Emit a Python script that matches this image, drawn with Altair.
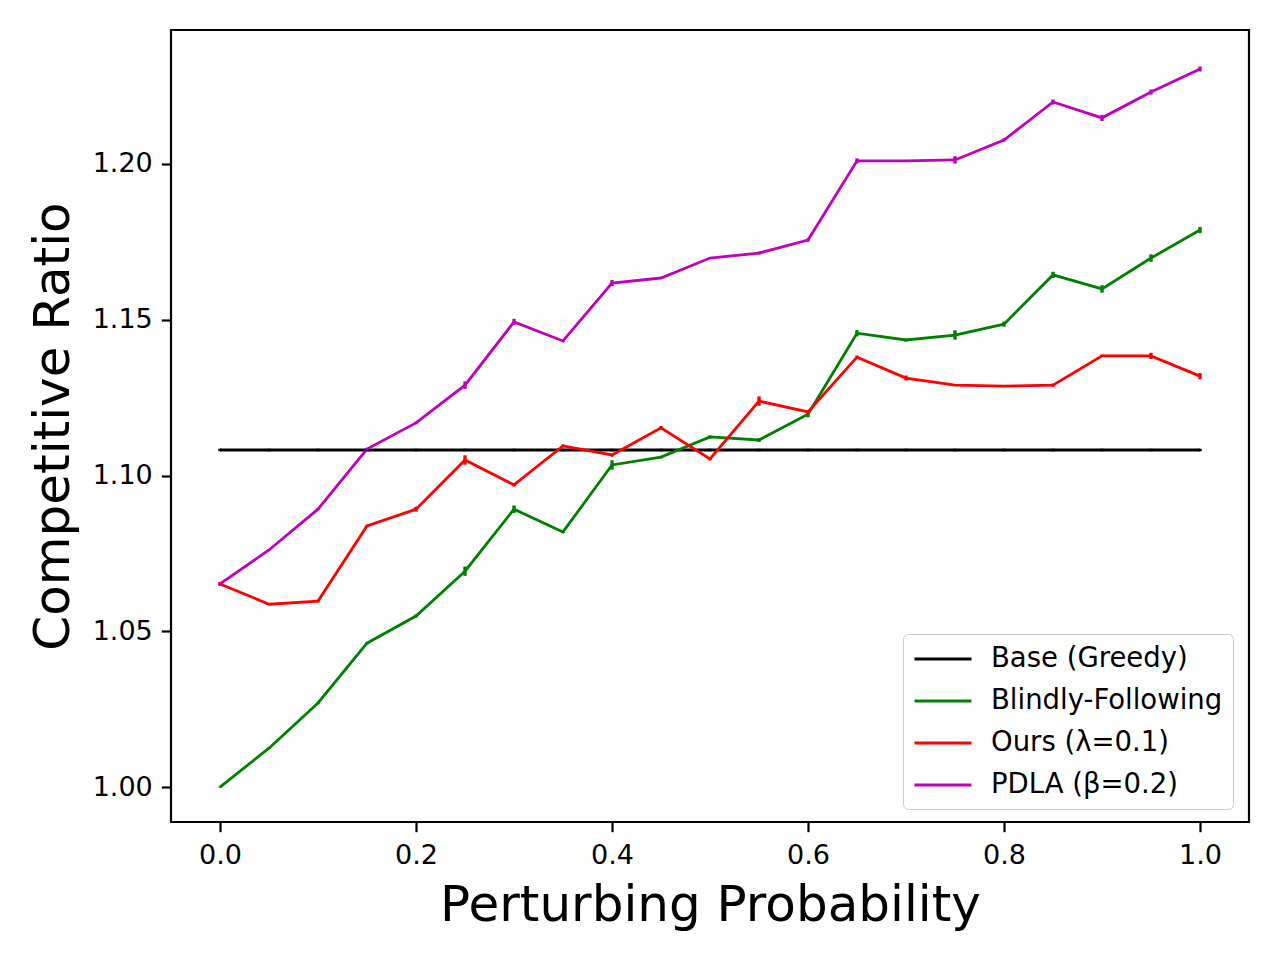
import altair as alt
import pandas as pd

probs = [0.0, 0.05, 0.10, 0.15, 0.20, 0.25, 0.30, 0.35, 0.40, 0.45, 0.50,
         0.55, 0.60, 0.65, 0.70, 0.75, 0.80, 0.85, 0.90, 0.95, 1.00]

base = [1.1082, 1.1082, 1.1082, 1.1082, 1.1082, 1.1082, 1.1082, 1.1082, 1.1082, 1.1082, 1.1082,
        1.1082, 1.1082, 1.1082, 1.1082, 1.1082, 1.1082, 1.1082, 1.1082, 1.1082, 1.1082]
base_err = [0.0004, 0.0004, 0.0004, 0.0004, 0.0004, 0.0004, 0.0004, 0.0004, 0.0004, 0.0004, 0.0004,
            0.0004, 0.0004, 0.0004, 0.0004, 0.0004, 0.0004, 0.0004, 0.0004, 0.0004, 0.0004]

blind = [1.0000, 1.0125, 1.0270, 1.0462, 1.0549, 1.0693, 1.0892, 1.0819, 1.1034, 1.1059, 1.1124,
         1.1114, 1.1197, 1.1457, 1.1435, 1.1451, 1.1486, 1.1644, 1.1599, 1.1698, 1.1788]
blind_err = [0.0002, 0.0003, 0.0003, 0.0004, 0.0005, 0.0015, 0.0012, 0.0004, 0.0015, 0.0004, 0.0005,
             0.0006, 0.0010, 0.0010, 0.0005, 0.0015, 0.0008, 0.0010, 0.0012, 0.0012, 0.0010]

ours = [1.0652, 1.0587, 1.0597, 1.0838, 1.0892, 1.1050, 1.0970, 1.1095, 1.1066, 1.1153, 1.1053,
        1.1239, 1.1204, 1.1380, 1.1313, 1.1290, 1.1287, 1.1290, 1.1384, 1.1384, 1.1319]
ours_err = [0.0006, 0.0003, 0.0004, 0.0004, 0.0008, 0.0015, 0.0005, 0.0005, 0.0005, 0.0006, 0.0004,
            0.0015, 0.0006, 0.0005, 0.0008, 0.0003, 0.0003, 0.0005, 0.0004, 0.0010, 0.0010]

pdla = [1.0652, 1.0761, 1.0892, 1.1085, 1.1169, 1.1290, 1.1493, 1.1432, 1.1618, 1.1634, 1.1698,
        1.1714, 1.1756, 1.2010, 1.2010, 1.2013, 1.2077, 1.2199, 1.2148, 1.2231, 1.2305]
pdla_err = [0.0004, 0.0003, 0.0003, 0.0004, 0.0004, 0.0012, 0.0010, 0.0004, 0.0010, 0.0003, 0.0003,
            0.0005, 0.0005, 0.0008, 0.0003, 0.0012, 0.0005, 0.0008, 0.0010, 0.0008, 0.0008]

series_names = ["Base (Greedy)", "Blindly-Following", "Ours (λ=0.1)", "PDLA (β=0.2)"]
series_colors = ["#000000", "#008000", "#ff0000", "#bf00bf"]

rows = []
for order, (name, vals, errs) in enumerate(zip(series_names, [base, blind, ours, pdla],
                                             [base_err, blind_err, ours_err, pdla_err])):
    for p, v, e in zip(probs, vals, errs):
        rows.append({"series": name, "order": order, "p": p, "ratio": v, "lo": v - e, "hi": v + e})
df = pd.DataFrame(rows)

FONT = "DejaVu Sans"

color_scale = alt.Scale(domain=series_names, range=series_colors)
legend = alt.Legend(
    title=None, orient="none", legendX=732, legendY=604,
    symbolType="M-1,0H3.22", symbolSize=729, symbolStrokeWidth=2.8,
    labelFont=FONT, labelFontSize=27.5, labelColor="black", labelOffset=48, labelLimit=500,
    padding=10, rowPadding=13, strokeColor="#cccccc", fillColor="white",
    cornerRadius=5,
)

x_enc = alt.X(
    "p:Q",
    scale=alt.Scale(domain=[-0.05, 1.05], nice=False, zero=False),
    axis=alt.Axis(
        title="Perturbing Probability", values=[0.0, 0.2, 0.4, 0.6, 0.8, 1.0], format=".1f",
        titleFont=FONT, titleFontSize=50, titleFontWeight="normal", titleColor="black",
        titleX=539, titleY=98, titleBaseline="alphabetic", titleAlign="center",
        labelFont=FONT, labelFontSize=27, labelColor="black", labelPadding=11,
        labelFlush=False, labelOverlap=False,
        tickColor="black", tickWidth=2.2, tickSize=9.7, domain=False, grid=False,
    ),
)
y_enc = alt.Y(
    "ratio:Q",
    scale=alt.Scale(domain=[0.9888, 1.2430], nice=False, zero=False),
    axis=alt.Axis(
        title="Competitive Ratio", values=[1.00, 1.05, 1.10, 1.15, 1.20], format=".2f",
        titleFont=FONT, titleFontSize=50, titleFontWeight="normal", titleColor="black",
        titleX=-103, titleY=396, titleBaseline="alphabetic", titleAlign="center", titleAngle=270,
        labelFont=FONT, labelFontSize=27, labelColor="black", labelPadding=9,
        labelFlush=False, labelOverlap=False,
        tickColor="black", tickWidth=2.2, tickSize=9.7, domain=False, grid=False,
    ),
)

lines = alt.Chart(df).mark_line(strokeWidth=2.8).encode(
    x=x_enc, y=y_enc,
    color=alt.Color("series:N", scale=color_scale, legend=legend),
    order="p:Q",
)

bars = alt.Chart(df).mark_rule(strokeWidth=3.4).encode(
    x=alt.X("p:Q"), y=alt.Y("lo:Q"), y2="hi:Q",
    color=alt.Color("series:N", scale=color_scale, legend=legend),
)

chart = alt.layer(lines, bars).properties(
    width=1078, height=792,
    autosize=alt.AutoSizeParams(type="none"),
    padding={"left": 163, "top": 22, "right": 23, "bottom": 130},
    background="white",
).configure(
    font=FONT
).configure_view(
    stroke="black", strokeWidth=2.2
)

chart.save("out.html", embed_options={"renderer": "svg", "actions": False})
